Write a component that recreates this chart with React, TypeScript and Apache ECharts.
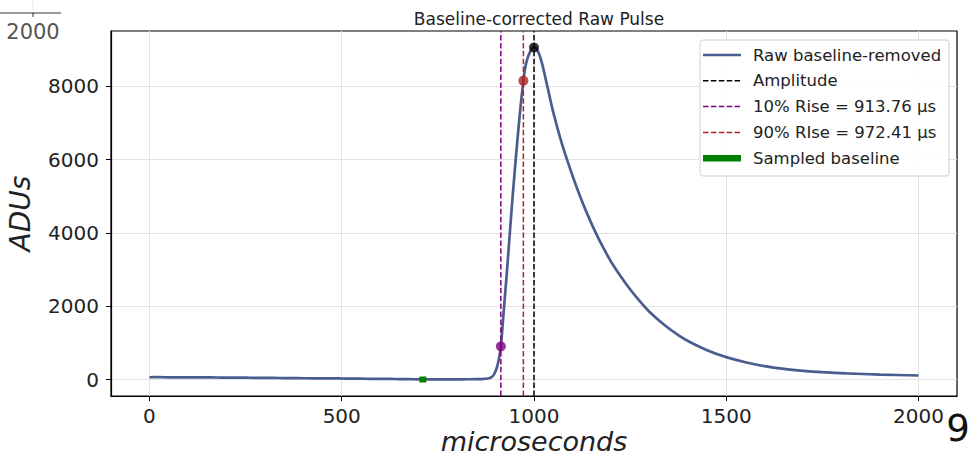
import React, { useEffect, useRef } from "react";
import * as echarts from "echarts";

// Pulse trace: [microseconds, ADUs]
const pulse: [number, number][] = [
  [0, 62], [25, 64], [50, 60], [75, 61], [100, 58], [125, 59], [150, 57], [175, 55],
  [200, 52], [225, 53], [250, 50], [275, 47], [300, 45], [325, 43], [350, 40], [375, 38],
  [400, 35], [425, 33], [450, 30], [475, 31], [500, 28], [525, 24], [550, 22], [575, 20],
  [600, 18], [625, 15], [650, 12], [675, 9], [700, 5], [725, 4], [750, 3], [775, 5],
  [800, 5], [825, 7], [850, 10], [870, 18], [885, 40], [895, 120], [905, 380],
  [913.76, 906], [920, 1700], [930, 3000], [940, 4400], [950, 5700], [960, 6900],
  [972.41, 8154], [980, 8650], [990, 8950], [1000, 9060], [1010, 8960], [1020, 8660],
  [1035, 7985], [1050, 7295], [1070, 6525], [1087, 5964], [1105, 5415], [1118, 5048],
  [1135, 4602], [1160, 4014], [1180, 3600], [1204, 3150], [1240, 2600], [1270, 2200],
  [1300, 1850], [1340, 1480], [1378, 1190], [1404, 1030], [1450, 800], [1500, 610],
  [1550, 470], [1600, 365], [1650, 290], [1700, 238], [1750, 200], [1813, 167],
  [1900, 135], [2000, 110],
];

const riseTimes = { t10: 913.76, t90: 972.41, peak: 1000 };
const riseValues = { v10: 906, v90: 8154, peak: 9060 };
const sampledBaseline: [number, number][] = [[702, 0], [720, 0]];

const xTicks = [0, 500, 1000, 1500, 2000];
const yTicks = [0, 2000, 4000, 6000, 8000];
const xRange = [-100, 2100];
const yRange = [-450, 9510];

const legendItems = [
  { label: "Raw baseline-removed", color: "#4a5d8e", dash: false, width: 2.5 },
  { label: "Amplitude", color: "#000000", dash: true, width: 1.5 },
  { label: "10% Rise = 913.76 µs", color: "#800080", dash: true, width: 1.5 },
  { label: "90% RIse = 972.41 µs", color: "#b22222", dash: true, width: 1.5 },
  { label: "Sampled baseline", color: "#008000", dash: false, width: 6.5 },
];

const FONT = "DejaVu Sans";

export default function App() {
  const ref = useRef<HTMLDivElement>(null);
  useEffect(() => {
    if (!ref.current) return;
    const chart = echarts.init(ref.current, undefined, { renderer: "svg" });
    const vline = (x: number, color: string) => ({
      type: "line",
      data: [[x, yRange[0]], [x, yRange[1]]],
      showSymbol: false,
      lineStyle: { color, width: 1.5, type: [5.5, 2.4] },
      z: 3,
      silent: true,
    });
    const legendGraphics: any[] = [
      {
        type: "rect",
        shape: { x: 700, y: 40, width: 249, height: 136, r: 3 },
        style: { fill: "rgba(255,255,255,0.85)", stroke: "#d0d0d0", lineWidth: 1 },
        z: 100,
      },
    ];
    legendItems.forEach((it, i) => {
      const y = 55 + i * 25.8;
      legendGraphics.push({
        type: "line",
        shape: { x1: 703, y1: y, x2: 741, y2: y },
        style: {
          stroke: it.color,
          lineWidth: it.width,
          lineDash: it.dash ? [5.5, 2.4] : null,
        },
        z: 101,
      });
      legendGraphics.push({
        type: "text",
        x: 753,
        y,
        style: {
          text: it.label,
          fill: "#222",
          font: `16.5px "${FONT}"`,
          textVerticalAlign: "middle",
        },
        z: 101,
      });
    });
    chart.setOption({
      animation: false,
      grid: {
        left: 111, top: 31, width: 846, height: 365,
        show: true, borderColor: "#000", borderWidth: 1.2, backgroundColor: "transparent",
        outerBoundsMode: "none", containLabel: false,
      },
      title: {
        text: "Baseline-corrected Raw Pulse",
        left: 534, top: 5, textAlign: "center",
        textStyle: { fontFamily: FONT, fontSize: 17, fontWeight: "normal", color: "#222" },
      },
      xAxis: {
        type: "value", min: xRange[0], max: xRange[1],
        name: "microseconds", nameLocation: "middle", nameGap: 32, nameMoveOverlap: false,
        nameTextStyle: { fontFamily: FONT, fontSize: 27, lineHeight: 27, fontStyle: "italic", color: "#222" },
        axisLine: { show: true, onZero: false, lineStyle: { color: "#000", width: 1.2 } },
        axisTick: { show: true, length: 5, customValues: xTicks, lineStyle: { color: "#000" } },
        axisLabel: {
          customValues: xTicks, formatter: (v: number) => String(v),
          fontFamily: FONT, fontSize: 20, lineHeight: 20, color: "#222", margin: 10,
        },
        splitLine: { show: true, lineStyle: { color: "#e3e3e3", width: 1 } },
      },
      yAxis: {
        type: "value", min: yRange[0], max: yRange[1],
        name: "ADUs", nameLocation: "middle", nameGap: 77, nameRotate: 90, nameMoveOverlap: false,
        nameTextStyle: { fontFamily: FONT, fontSize: 28, fontStyle: "italic", color: "#222" },
        axisLine: { show: true, onZero: false, lineStyle: { color: "#000", width: 1.2 } },
        axisTick: { show: true, length: 5, customValues: yTicks, lineStyle: { color: "#000" } },
        axisLabel: {
          customValues: yTicks, formatter: (v: number) => String(v),
          fontFamily: FONT, fontSize: 20, color: "#222", margin: 12,
        },
        splitLine: { show: true, lineStyle: { color: "#e3e3e3", width: 1 } },
      },
      series: [
        {
          type: "line", data: pulse, showSymbol: false, smooth: 0.3,
          lineStyle: { color: "#4a5d8e", width: 2.7 }, z: 2, silent: true,
        },
        {
          type: "line", data: sampledBaseline, showSymbol: false,
          lineStyle: { color: "#008000", width: 6, cap: "butt" }, z: 4, silent: true,
        },
        vline(riseTimes.peak, "#000000"),
        vline(riseTimes.t10, "#800080"),
        vline(riseTimes.t90, "#b22222"),
        {
          type: "scatter", symbolSize: 10, z: 5, silent: true,
          data: [
            { value: [riseTimes.peak, riseValues.peak], itemStyle: { color: "#000" } },
            { value: [riseTimes.t10, riseValues.v10], itemStyle: { color: "#800080" } },
            { value: [riseTimes.t90, riseValues.v90], itemStyle: { color: "#b22222" } },
          ],
        },
      ],
      graphic: [
        ...legendGraphics,
        // cropped remnants of neighbouring figures
        { type: "line", shape: { x1: 33, y1: 0, x2: 33, y2: 13 }, style: { stroke: "#e6e6e6", lineWidth: 1 } },
        { type: "line", shape: { x1: 0, y1: 13, x2: 61, y2: 13 }, style: { stroke: "#333", lineWidth: 1 } },
        { type: "line", shape: { x1: 33, y1: 13, x2: 33, y2: 17 }, style: { stroke: "#333", lineWidth: 1 } },
        {
          type: "text", x: 33, y: 32,
          style: { text: "2000", fill: "#555", font: `21px "${FONT}"`, textAlign: "center", textVerticalAlign: "middle" },
        },
        {
          type: "text", x: 958, y: 428,
          style: { text: "9", fill: "#111", font: `37px "${FONT}"`, textAlign: "center", textVerticalAlign: "middle" },
        },
      ],
    });
    return () => chart.dispose();
  }, []);
  return (
    <div
      ref={ref}
      style={{ position: "absolute", left: 0, top: 0, width: 969, height: 457, background: "#fff" }}
    />
  );
}
